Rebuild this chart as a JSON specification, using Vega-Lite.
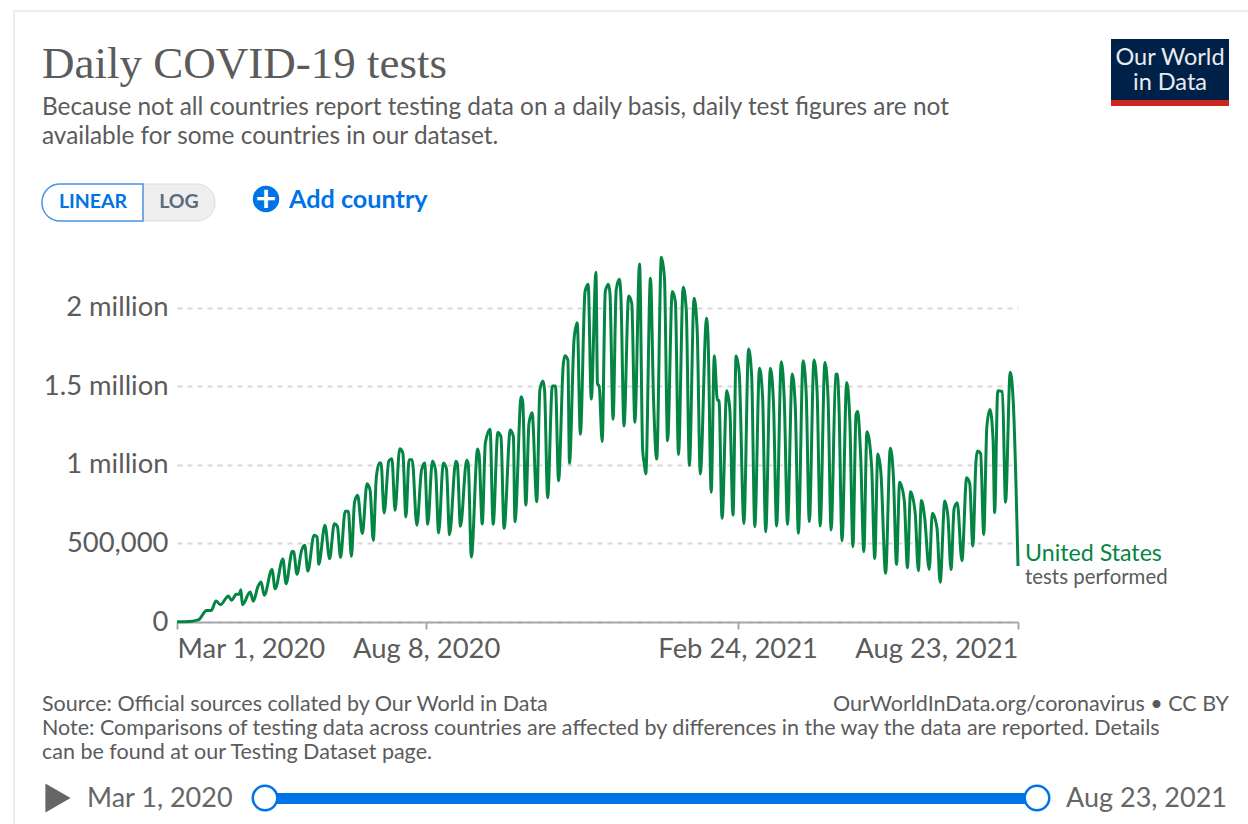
{"$schema":"https://vega.github.io/schema/vega-lite/v6.json","width":841,"height":372,"autosize":{"type":"none"},"padding":{"left":177,"top":250,"right":230,"bottom":202},"background":"#ffffff","title":{"text":"Daily COVID-19 tests","subtitle":["Because not all countries report testing data on a daily basis, daily test figures are not","available for some countries in our dataset."],"anchor":"start","frame":"group","dx":-135,"offset":-138,"font":"Liberation Serif","fontSize":45,"fontWeight":"normal","color":"#5b5b5b","subtitleFont":"Lato","subtitleFontSize":24.4,"subtitleColor":"#5b5b5b","subtitleLineHeight":29,"subtitlePadding":9},"config":{"view":{"stroke":null},"text":{"font":"Lato"}},"datasets":{"tests":[{"date":"2020-03-01","tests":1000},{"date":"2020-03-09","tests":3000},{"date":"2020-03-15","tests":15000},{"date":"2020-03-20","tests":74000},{"date":"2020-03-23","tests":74000},{"date":"2020-03-26","tests":134000},{"date":"2020-03-29","tests":110000},{"date":"2020-04-03","tests":166000},{"date":"2020-04-05","tests":138000},{"date":"2020-04-08","tests":176000},{"date":"2020-04-10","tests":176000},{"date":"2020-04-11","tests":206000},{"date":"2020-04-12","tests":110000},{"date":"2020-04-17","tests":191000},{"date":"2020-04-19","tests":132000},{"date":"2020-04-22","tests":227000},{"date":"2020-04-24","tests":255000},{"date":"2020-04-26","tests":170000},{"date":"2020-05-01","tests":335000},{"date":"2020-05-03","tests":212000},{"date":"2020-05-08","tests":401000},{"date":"2020-05-10","tests":244000},{"date":"2020-05-14","tests":450000},{"date":"2020-05-15","tests":445000},{"date":"2020-05-17","tests":304000},{"date":"2020-05-20","tests":456000},{"date":"2020-05-22","tests":488000},{"date":"2020-05-24","tests":325000},{"date":"2020-05-28","tests":552000},{"date":"2020-05-30","tests":541000},{"date":"2020-05-31","tests":367000},{"date":"2020-06-04","tests":616000},{"date":"2020-06-07","tests":403000},{"date":"2020-06-10","tests":626000},{"date":"2020-06-12","tests":609000},{"date":"2020-06-14","tests":410000},{"date":"2020-06-17","tests":705000},{"date":"2020-06-19","tests":705000},{"date":"2020-06-21","tests":418000},{"date":"2020-06-23","tests":764000},{"date":"2020-06-25","tests":807000},{"date":"2020-06-28","tests":563000},{"date":"2020-07-01","tests":881000},{"date":"2020-07-03","tests":839000},{"date":"2020-07-05","tests":520000},{"date":"2020-07-07","tests":923000},{"date":"2020-07-09","tests":1013000},{"date":"2020-07-10","tests":1013000},{"date":"2020-07-12","tests":694000},{"date":"2020-07-15","tests":1025000},{"date":"2020-07-17","tests":1040000},{"date":"2020-07-19","tests":711000},{"date":"2020-07-22","tests":1104000},{"date":"2020-07-24","tests":1078000},{"date":"2020-07-26","tests":669000},{"date":"2020-07-28","tests":1034000},{"date":"2020-07-30","tests":1034000},{"date":"2020-08-02","tests":616000},{"date":"2020-08-05","tests":966000},{"date":"2020-08-07","tests":1013000},{"date":"2020-08-09","tests":622000},{"date":"2020-08-12","tests":1025000},{"date":"2020-08-14","tests":966000},{"date":"2020-08-16","tests":567000},{"date":"2020-08-19","tests":1013000},{"date":"2020-08-21","tests":977000},{"date":"2020-08-23","tests":556000},{"date":"2020-08-27","tests":1023000},{"date":"2020-08-28","tests":1008000},{"date":"2020-08-30","tests":609000},{"date":"2020-09-03","tests":1030000},{"date":"2020-09-04","tests":1008000},{"date":"2020-09-06","tests":414000},{"date":"2020-09-10","tests":1102000},{"date":"2020-09-11","tests":1060000},{"date":"2020-09-13","tests":624000},{"date":"2020-09-15","tests":1142000},{"date":"2020-09-18","tests":1227000},{"date":"2020-09-20","tests":622000},{"date":"2020-09-23","tests":1206000},{"date":"2020-09-25","tests":1180000},{"date":"2020-09-27","tests":597000},{"date":"2020-10-01","tests":1223000},{"date":"2020-10-03","tests":1180000},{"date":"2020-10-04","tests":639000},{"date":"2020-10-08","tests":1435000},{"date":"2020-10-09","tests":1403000},{"date":"2020-10-11","tests":745000},{"date":"2020-10-13","tests":1265000},{"date":"2020-10-15","tests":1333000},{"date":"2020-10-18","tests":766000},{"date":"2020-10-20","tests":1478000},{"date":"2020-10-22","tests":1535000},{"date":"2020-10-23","tests":1478000},{"date":"2020-10-25","tests":792000},{"date":"2020-10-28","tests":1503000},{"date":"2020-10-30","tests":1503000},{"date":"2020-11-01","tests":900000},{"date":"2020-11-04","tests":1637000},{"date":"2020-11-05","tests":1696000},{"date":"2020-11-07","tests":1669000},{"date":"2020-11-08","tests":1011000},{"date":"2020-11-11","tests":1807000},{"date":"2020-11-13","tests":1906000},{"date":"2020-11-15","tests":1195000},{"date":"2020-11-18","tests":2104000},{"date":"2020-11-20","tests":2151000},{"date":"2020-11-22","tests":1420000},{"date":"2020-11-25","tests":2227000},{"date":"2020-11-26","tests":1509000},{"date":"2020-11-27","tests":1509000},{"date":"2020-11-29","tests":1149000},{"date":"2020-12-01","tests":2104000},{"date":"2020-12-03","tests":2151000},{"date":"2020-12-04","tests":2093000},{"date":"2020-12-06","tests":1291000},{"date":"2020-12-08","tests":2114000},{"date":"2020-12-10","tests":2182000},{"date":"2020-12-11","tests":2083000},{"date":"2020-12-13","tests":1248000},{"date":"2020-12-16","tests":2076000},{"date":"2020-12-18","tests":2030000},{"date":"2020-12-20","tests":1272000},{"date":"2020-12-23","tests":2280000},{"date":"2020-12-25","tests":1095000},{"date":"2020-12-26","tests":1010000},{"date":"2020-12-27","tests":943000},{"date":"2020-12-30","tests":2189000},{"date":"2021-01-01","tests":1414000},{"date":"2021-01-03","tests":1038000},{"date":"2021-01-06","tests":2323000},{"date":"2021-01-08","tests":2189000},{"date":"2021-01-10","tests":1155000},{"date":"2021-01-13","tests":2104000},{"date":"2021-01-15","tests":2040000},{"date":"2021-01-17","tests":1066000},{"date":"2021-01-20","tests":2131000},{"date":"2021-01-22","tests":1987000},{"date":"2021-01-24","tests":996000},{"date":"2021-01-27","tests":2061000},{"date":"2021-01-29","tests":1860000},{"date":"2021-01-31","tests":943000},{"date":"2021-02-04","tests":1934000},{"date":"2021-02-05","tests":1807000},{"date":"2021-02-07","tests":826000},{"date":"2021-02-09","tests":1696000},{"date":"2021-02-11","tests":1412000},{"date":"2021-02-12","tests":1412000},{"date":"2021-02-14","tests":660000},{"date":"2021-02-17","tests":1473000},{"date":"2021-02-19","tests":1350000},{"date":"2021-02-21","tests":681000},{"date":"2021-02-23","tests":1694000},{"date":"2021-02-25","tests":1584000},{"date":"2021-02-28","tests":628000},{"date":"2021-03-03","tests":1739000},{"date":"2021-03-05","tests":1563000},{"date":"2021-03-07","tests":607000},{"date":"2021-03-10","tests":1616000},{"date":"2021-03-12","tests":1435000},{"date":"2021-03-14","tests":575000},{"date":"2021-03-17","tests":1616000},{"date":"2021-03-19","tests":1393000},{"date":"2021-03-21","tests":611000},{"date":"2021-03-24","tests":1658000},{"date":"2021-03-26","tests":1393000},{"date":"2021-03-28","tests":622000},{"date":"2021-03-31","tests":1580000},{"date":"2021-04-02","tests":1371000},{"date":"2021-04-04","tests":565000},{"date":"2021-04-07","tests":1664000},{"date":"2021-04-09","tests":1456000},{"date":"2021-04-11","tests":639000},{"date":"2021-04-14","tests":1669000},{"date":"2021-04-16","tests":1467000},{"date":"2021-04-18","tests":611000},{"date":"2021-04-21","tests":1652000},{"date":"2021-04-23","tests":1435000},{"date":"2021-04-25","tests":586000},{"date":"2021-04-28","tests":1577000},{"date":"2021-04-29","tests":1580000},{"date":"2021-04-30","tests":1393000},{"date":"2021-05-02","tests":518000},{"date":"2021-05-05","tests":1526000},{"date":"2021-05-07","tests":1287000},{"date":"2021-05-09","tests":480000},{"date":"2021-05-11","tests":1318000},{"date":"2021-05-12","tests":1340000},{"date":"2021-05-14","tests":1050000},{"date":"2021-05-16","tests":448000},{"date":"2021-05-18","tests":1212000},{"date":"2021-05-21","tests":994000},{"date":"2021-05-23","tests":405000},{"date":"2021-05-25","tests":1070000},{"date":"2021-05-27","tests":947000},{"date":"2021-05-30","tests":310000},{"date":"2021-06-02","tests":1106000},{"date":"2021-06-04","tests":926000},{"date":"2021-06-06","tests":367000},{"date":"2021-06-08","tests":890000},{"date":"2021-06-11","tests":771000},{"date":"2021-06-13","tests":346000},{"date":"2021-06-15","tests":830000},{"date":"2021-06-18","tests":692000},{"date":"2021-06-20","tests":327000},{"date":"2021-06-22","tests":773000},{"date":"2021-06-24","tests":671000},{"date":"2021-06-27","tests":335000},{"date":"2021-06-29","tests":692000},{"date":"2021-07-02","tests":597000},{"date":"2021-07-04","tests":253000},{"date":"2021-07-07","tests":771000},{"date":"2021-07-09","tests":671000},{"date":"2021-07-11","tests":335000},{"date":"2021-07-13","tests":724000},{"date":"2021-07-15","tests":760000},{"date":"2021-07-18","tests":391000},{"date":"2021-07-21","tests":919000},{"date":"2021-07-23","tests":883000},{"date":"2021-07-25","tests":484000},{"date":"2021-07-27","tests":1021000},{"date":"2021-07-28","tests":1089000},{"date":"2021-07-30","tests":1074000},{"date":"2021-08-01","tests":558000},{"date":"2021-08-03","tests":1244000},{"date":"2021-08-05","tests":1354000},{"date":"2021-08-07","tests":1159000},{"date":"2021-08-08","tests":696000},{"date":"2021-08-10","tests":1473000},{"date":"2021-08-13","tests":1467000},{"date":"2021-08-15","tests":762000},{"date":"2021-08-18","tests":1590000},{"date":"2021-08-20","tests":1393000},{"date":"2021-08-23","tests":357000}]},"layer":[{"data":{"values":[{}]},"mark":{"type":"rect","x":-163,"y":-239,"x2":1090,"y2":590,"fill":"transparent","stroke":"#e6e6e6","strokeWidth":1.5,"clip":false},"encoding":{}},{"data":{"name":"tests"},"mark":{"type":"line","color":"#058544","strokeWidth":3,"interpolate":"monotone","strokeJoin":"round","clip":false},"encoding":{"x":{"field":"date","type":"temporal","title":null,"scale":{"type":"utc","domain":[{"year":2020,"month":3,"date":1,"utc":true},{"year":2021,"month":8,"date":23,"utc":true}]},"axis":{"values":[{"year":2020,"month":3,"date":1,"utc":true},{"year":2020,"month":8,"date":8,"utc":true},{"year":2021,"month":2,"date":24,"utc":true},{"year":2021,"month":8,"date":23,"utc":true}],"format":"%b %-d, %Y","labelFlush":true,"labelFont":"Lato","labelFontSize":27.4,"labelColor":"#5b5b5b","labelPadding":6,"labelOverlap":false,"domainColor":"#a8a8a8","domainWidth":2,"tickColor":"#a8a8a8","tickWidth":2,"tickSize":7,"grid":false}},"y":{"field":"tests","type":"quantitative","title":null,"scale":{"domain":[0,2369000],"nice":false},"axis":{"values":[0,500000,1000000,1500000,2000000],"labelExpr":"datum.value==0?'0':datum.value==500000?'500,000':(datum.value/1000000)+' million'","labelFont":"Lato","labelFontSize":27.4,"labelColor":"#5b5b5b","labelPadding":9,"domain":false,"ticks":false,"grid":true,"gridColor":"#d8d8d8","gridDash":[5,5],"gridWidth":1.8}}}},{"data":{"values":[{"date":"2021-08-23","tests":357000,"name":"United States"}]},"mark":{"type":"text","align":"left","dx":7,"dy":-12,"fontSize":23.2,"color":"#058544","clip":false},"encoding":{"x":{"field":"date","type":"temporal"},"y":{"field":"tests","type":"quantitative"},"text":{"field":"name"}}},{"data":{"values":[{"date":"2021-08-23","tests":357000,"name":"tests performed"}]},"mark":{"type":"text","align":"left","dx":7,"dy":12,"fontSize":20.4,"color":"#5b5b5b","clip":false},"encoding":{"x":{"field":"date","type":"temporal"},"y":{"field":"tests","type":"quantitative"},"text":{"field":"name"}}},{"data":{"values":[{}]},"mark":{"type":"rect","x":-35,"y":-66,"x2":38,"y2":-29,"fill":"#eeeeee","stroke":"#dddddd","cornerRadiusTopRight":18,"cornerRadiusBottomRight":18},"encoding":{}},{"data":{"values":[{}]},"mark":{"type":"rect","x":-135,"y":-66,"x2":-34,"y2":-29,"fill":"#ffffff","stroke":"#4a94e8","strokeWidth":1.5,"cornerRadiusTopLeft":18,"cornerRadiusBottomLeft":18},"encoding":{}},{"data":{"values":[{"t":"LINEAR"}]},"mark":{"type":"text","x":-84,"y":-48,"align":"center","baseline":"middle","fontSize":19.5,"fontWeight":"bold","color":"#0073e6"},"encoding":{"text":{"field":"t"}}},{"data":{"values":[{"t":"LOG"}]},"mark":{"type":"text","x":2,"y":-48,"align":"center","baseline":"middle","fontSize":19.5,"fontWeight":"bold","color":"#5b6b80"},"encoding":{"text":{"field":"t"}}},{"data":{"values":[{}]},"mark":{"type":"point","x":89,"y":-51,"size":700,"filled":true,"opacity":1,"color":"#0073e6","shape":"circle"},"encoding":{}},{"data":{"values":[{"t":"+"}]},"mark":{"type":"text","x":89,"y":-50,"align":"center","baseline":"middle","fontSize":36,"fontWeight":"bold","color":"#ffffff"},"encoding":{"text":{"field":"t"}}},{"data":{"values":[{"t":"Add country"}]},"mark":{"type":"text","x":112,"y":-50,"align":"left","baseline":"middle","fontSize":25.2,"fontWeight":"bold","color":"#0073e6"},"encoding":{"text":{"field":"t"}}},{"data":{"values":[{}]},"mark":{"type":"rect","x":934,"y":-211,"x2":1052,"y2":-150,"fill":"#002147"},"encoding":{}},{"data":{"values":[{}]},"mark":{"type":"rect","x":934,"y":-150,"x2":1052,"y2":-144,"fill":"#ce261e"},"encoding":{}},{"data":{"values":[{"t":"Our World"}]},"mark":{"type":"text","x":993,"y":-192,"align":"center","fontSize":23.5,"color":"#e8ecf0"},"encoding":{"text":{"field":"t"}}},{"data":{"values":[{"t":"in Data"}]},"mark":{"type":"text","x":993,"y":-167,"align":"center","fontSize":23.5,"color":"#e8ecf0"},"encoding":{"text":{"field":"t"}}},{"data":{"values":[{"t":"Source: Official sources collated by Our World in Data"}]},"mark":{"type":"text","x":-135,"y":455,"align":"left","fontSize":21.5,"color":"#5b5b5b"},"encoding":{"text":{"field":"t"}}},{"data":{"values":[{"t":"OurWorldInData.org/coronavirus • CC BY"}]},"mark":{"type":"text","x":1052,"y":455,"align":"right","fontSize":21.5,"color":"#5b5b5b"},"encoding":{"text":{"field":"t"}}},{"data":{"values":[{"t":"Note: Comparisons of testing data across countries are affected by differences in the way the data are reported. Details"}]},"mark":{"type":"text","x":-135,"y":479,"align":"left","fontSize":21.5,"color":"#5b5b5b"},"encoding":{"text":{"field":"t"}}},{"data":{"values":[{"t":"can be found at our Testing Dataset page."}]},"mark":{"type":"text","x":-135,"y":503,"align":"left","fontSize":21.5,"color":"#5b5b5b"},"encoding":{"text":{"field":"t"}}},{"data":{"values":[{}]},"mark":{"type":"point","x":-119,"y":548,"size":850,"filled":true,"opacity":1,"color":"#666666","shape":"triangle-right"},"encoding":{}},{"data":{"values":[{"t":"Mar 1, 2020"}]},"mark":{"type":"text","x":-90,"y":549,"align":"left","fontSize":27,"color":"#666666"},"encoding":{"text":{"field":"t"}}},{"data":{"values":[{}]},"mark":{"type":"rect","x":88,"y":543,"x2":860,"y2":554,"fill":"#0073e6"},"encoding":{}},{"data":{"values":[{}]},"mark":{"type":"point","x":88,"y":548,"size":600,"filled":true,"opacity":1,"color":"#ffffff","stroke":"#0073e6","strokeWidth":2.5,"shape":"circle"},"encoding":{}},{"data":{"values":[{}]},"mark":{"type":"point","x":860,"y":548,"size":600,"filled":true,"opacity":1,"color":"#ffffff","stroke":"#0073e6","strokeWidth":2.5,"shape":"circle"},"encoding":{}},{"data":{"values":[{"t":"Aug 23, 2021"}]},"mark":{"type":"text","x":1050,"y":549,"align":"right","fontSize":27,"color":"#666666"},"encoding":{"text":{"field":"t"}}}]}
